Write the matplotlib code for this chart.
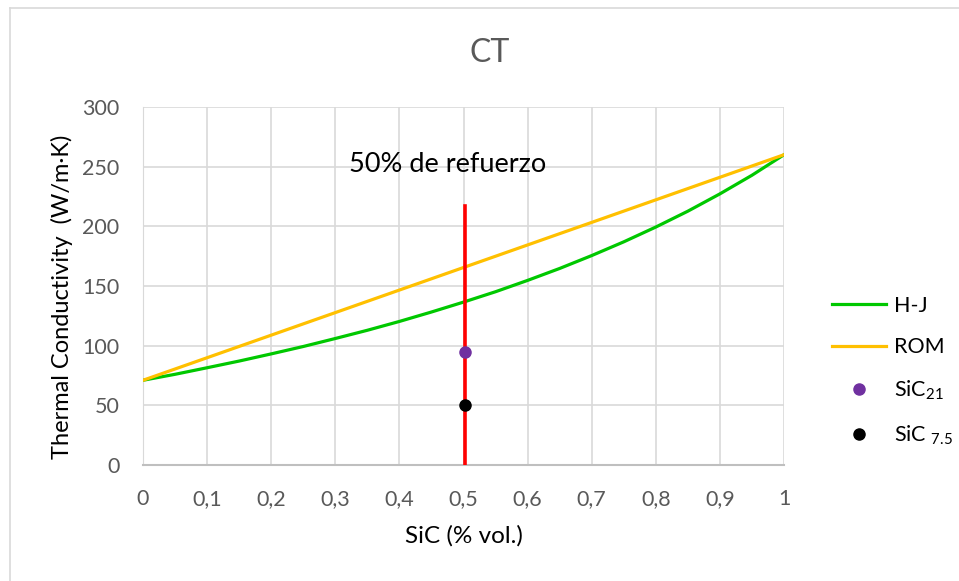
import matplotlib
matplotlib.use("Agg")
import matplotlib.pyplot as plt
from matplotlib.lines import Line2D

plt.rcParams['font.family'] = ['Lato', 'DejaVu Sans']
plt.rcParams['mathtext.fontset'] = 'custom'
plt.rcParams['mathtext.rm'] = 'Lato'
plt.rcParams['mathtext.it'] = 'Lato'

# SiC volume fraction
vf = [0.00, 0.05, 0.10, 0.15, 0.20, 0.25, 0.30, 0.35, 0.40, 0.45, 0.50,
      0.55, 0.60, 0.65, 0.70, 0.75, 0.80, 0.85, 0.90, 0.95, 1.00]
# Hashin-Jackson estimate (W/m·K)
k_hj = [71.0, 76.0, 81.5, 87.1, 93.1, 99.3, 106.0, 112.9, 120.3, 128.2, 136.5,
        145.2, 154.7, 164.7, 175.5, 187.0, 199.4, 212.7, 227.2, 242.8, 260.0]
# Rule of mixtures (W/m·K)
vf_rom = [0.0, 1.0]
k_rom = [71.0, 260.0]
# 50 % reinforcement marker
ref_x = [0.503, 0.503]
ref_y = [0.0, 217.0]
# Measured composites
sic21_x, sic21_y = [0.503], [94.5]
sic75_x, sic75_y = [0.503], [50.0]

xticks = [0.0, 0.1, 0.2, 0.3, 0.4, 0.5, 0.6, 0.7, 0.8, 0.9, 1.0]
xtick_labels = ['0', '0,1', '0,2', '0,3', '0,4', '0,5', '0,6', '0,7', '0,8', '0,9', '1']
yticks = [0, 50, 100, 150, 200, 250, 300]

fig = plt.figure(figsize=(9.59, 5.81), dpi=100)
ax = fig.add_axes([143 / 959, 1 - 465 / 581, (784 - 143) / 959, (465 - 107) / 581])

# chart frame lines (top and left)
fig.add_artist(Line2D([10 / 959, 10 / 959], [0, 1 - 8 / 581], transform=fig.transFigure,
                      color='#d9d9d9', lw=1.2))
fig.add_artist(Line2D([10 / 959, 1], [1 - 8 / 581, 1 - 8 / 581], transform=fig.transFigure,
                      color='#d9d9d9', lw=1.2))

ax.plot(vf, k_hj, color='#00C800', lw=2.3, label='H-J', zorder=3)
ax.plot(vf_rom, k_rom, color='#FFC000', lw=2.3, label='ROM', zorder=3)
ax.plot(ref_x, ref_y, color='#FF0000', lw=2.6, zorder=4)
ax.plot(sic21_x, sic21_y, 'o', color='#7030A0', ms=8, label='SiC$_{21}$', zorder=5, linestyle='none')
ax.plot(sic75_x, sic75_y, 'o', color='black', ms=8, label='SiC $_{7.5}$', zorder=5, linestyle='none')

ax.text(0.475, 252, '50% de refuerzo', fontsize=19.5, color='black', ha='center', va='center')

ax.set_xlim(0, 1)
ax.set_ylim(0, 300)
ax.set_xticks(xticks)
ax.set_xticklabels(xtick_labels)
ax.set_yticks(yticks)
ax.grid(True, color='#d9d9d9', lw=1.2)
ax.set_axisbelow(True)
for s in ['top', 'right']:
    ax.spines[s].set_visible(False)
ax.spines['left'].set_color('#d9d9d9')
ax.spines['bottom'].set_color('#bfbfbf')
ax.spines['bottom'].set_linewidth(1.5)
ax.tick_params(length=0, labelsize=15.5, colors='#595959')
ax.tick_params(axis='x', pad=17)
ax.tick_params(axis='y', pad=17)

ax.set_xlabel('SiC (% vol.)', fontsize=17.5, color='black')
ax.xaxis.set_label_coords(0.5, -(536 - 465) / 358, transform=ax.transAxes)
ax.xaxis.label.set_va('center')
ax.set_ylabel('Thermal Conductivity  (W/m·K)', fontsize=17, color='black')
ax.yaxis.set_label_coords(-(143 - 62) / 641, (465 - 297) / 358, transform=ax.transAxes)
ax.yaxis.label.set_va('center')
fig.text(490 / 959, 1 - 53 / 581, 'CT', fontsize=23, color='#595959', ha='center', va='center')

leg = ax.legend(loc='center left', bbox_to_anchor=(1.045, 0.262), frameon=False, fontsize=15.5,
                handlelength=2.5, labelspacing=1.0, handletextpad=0.35)

fig.savefig('out.png', dpi=100)
